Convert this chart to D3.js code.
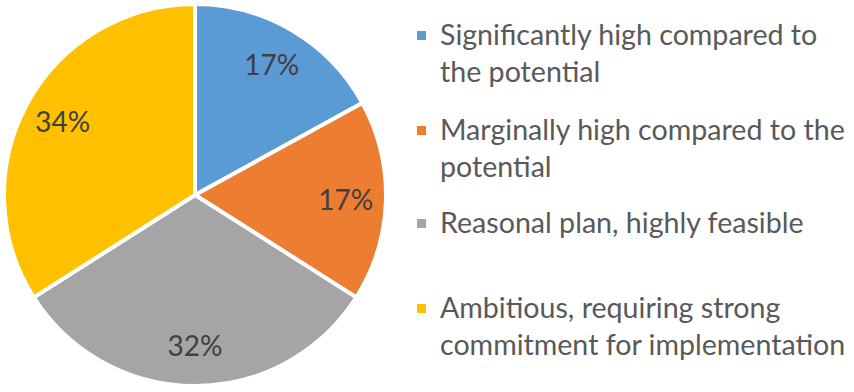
<!DOCTYPE html>
<html>
<head>
<meta charset="utf-8">
<script src="https://cdn.jsdelivr.net/npm/d3@7"></script>
<style>
  body { margin: 0; background: #fff; }
  svg { display: block; }
</style>
</head>
<body>
<div id="chart"></div>
<script>
// slice data, clockwise from 12 o'clock
var categories = [
  ["Significantly high compared to", "the potential"],
  ["Marginally high compared to the", "potential"],
  ["Reasonal plan, highly feasible"],
  ["Ambitious, requiring strong", "commitment for implementation"]
];
var values = [17, 17, 32, 34];
var labels = ["17%", "17%", "32%", "34%"];
var colors = ["#5B9BD5", "#ED7D31", "#A5A5A5", "#FFC000"];

var width = 854, height = 392;
var fontFam = "Lato, 'Noto Sans', sans-serif";

var svg = d3.select("#chart")
  .append("svg")
  .attr("width", width)
  .attr("height", height);

var cx = 195, cy = 195, radius = 191;

var pie = d3.pie().sort(null).value(function (d) { return d; });
var arcs = pie(values);
var arc = d3.arc().innerRadius(0).outerRadius(radius);
var labelArc = d3.arc().innerRadius(radius * 0.79).outerRadius(radius * 0.79);

var g = svg.append("g").attr("transform", "translate(" + cx + "," + cy + ")");

g.selectAll("path")
  .data(arcs)
  .enter()
  .append("path")
  .attr("d", arc)
  .attr("fill", function (d, i) { return colors[i]; })
  .attr("stroke", "#fff")
  .attr("stroke-width", 4)
  .attr("stroke-linejoin", "round");

g.selectAll("text.lbl")
  .data(arcs)
  .enter()
  .append("text")
  .attr("class", "lbl")
  .attr("x", function (d) { return labelArc.centroid(d)[0]; })
  .attr("y", function (d) { return labelArc.centroid(d)[1]; })
  .attr("dy", "0.35em")
  .attr("text-anchor", "middle")
  .style("font-family", fontFam)
  .style("font-size", "28px")
  .attr("fill", "#404040")
  .text(function (d, i) { return labels[i]; });

// legend
var legendX = 417, textX = 440;
var entryY = [45, 140, 233, 318]; // first baseline of each entry
var lineH = 37;

var legend = svg.append("g");
categories.forEach(function (lines, i) {
  var item = legend.append("g");
  item.append("rect")
    .attr("x", legendX)
    .attr("y", entryY[i] - 14)
    .attr("width", 9)
    .attr("height", 9)
    .attr("fill", colors[i]);
  var t = item.append("text")
    .style("font-family", fontFam)
    .style("font-size", "28.6px")
    .attr("fill", "#595959");
  lines.forEach(function (ln, j) {
    t.append("tspan")
      .attr("x", textX)
      .attr("y", entryY[i] + j * lineH)
      .text(ln);
  });
});
</script>
</body>
</html>
